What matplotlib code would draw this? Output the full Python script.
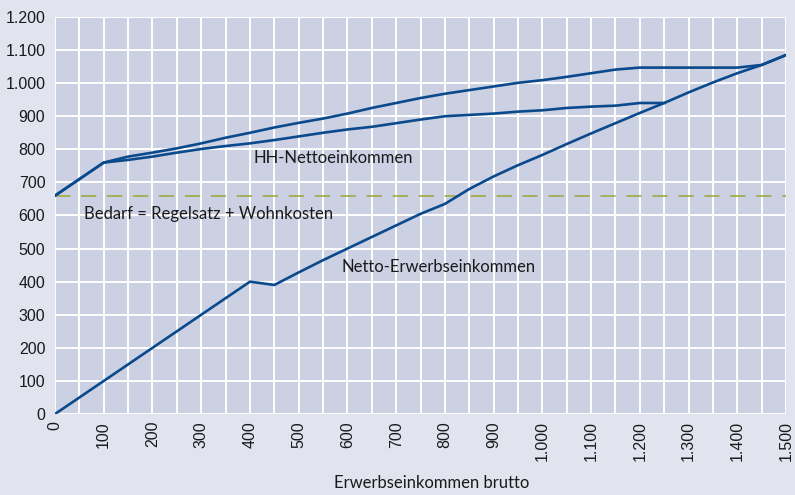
import matplotlib
matplotlib.use("Agg")
import matplotlib.pyplot as plt
from matplotlib.ticker import FuncFormatter, MultipleLocator

# Bruttoerwerbseinkommen (x) in 50er-Schritten
brutto = [0, 50, 100, 150, 200, 250, 300, 350, 400, 450, 500, 550, 600, 650,
          700, 750, 800, 850, 900, 950, 1000, 1050, 1100, 1150, 1200, 1250,
          1300, 1350, 1400, 1450, 1500]

# HH-Nettoeinkommen, obere Variante
hh_oben = [660, 710, 760, 778, 790, 803, 818, 835, 850, 866, 880, 893, 908,
           925, 940, 955, 968, 979, 990, 1001, 1009, 1019, 1030, 1041, 1047,
           1047, 1047, 1047, 1047, 1055, 1085]

# HH-Nettoeinkommen, untere Variante (mündet bei 1.250 in das Netto-Einkommen)
brutto_unten = brutto[:26]
hh_unten = [660, 710, 760, 768, 778, 790, 801, 810, 818, 828, 839, 850, 860,
            868, 879, 890, 900, 904, 908, 914, 918, 925, 929, 932, 940, 940]

# Netto-Erwerbseinkommen
netto = [0, 50, 100, 150, 200, 250, 300, 350, 400, 390, 428, 465, 500, 535,
         570, 605, 635, 680, 718, 752, 783, 816, 848, 879, 910, 940, 972,
         1002, 1030, 1055, 1085]

bedarf = 660

FIG_BG = "#e1e4ef"
AX_BG = "#cbd0e3"
LINE = "#0a4a8c"
OLIVE = "#9ba634"


def de_fmt(v, pos=None):
    return f"{int(v):,}".replace(",", ".")


fig = plt.figure(figsize=(7.95, 4.95), dpi=100, facecolor=FIG_BG)
ax = fig.add_axes([0.0692, 0.1636, 0.9195, 0.8021])
ax.set_facecolor(AX_BG)

ax.plot(brutto, hh_oben, color=LINE, lw=1.9, solid_joinstyle="round", zorder=3)
ax.plot(brutto_unten, hh_unten, color=LINE, lw=1.9, solid_joinstyle="round", zorder=3)
ax.plot(brutto, netto, color=LINE, lw=1.9, solid_joinstyle="round", zorder=3)
ax.axhline(bedarf, color=OLIVE, lw=1.1, dashes=(10, 7), zorder=2)

ax.set_xlim(0, 1500)
ax.set_ylim(0, 1200)
ax.xaxis.set_major_locator(MultipleLocator(100))
ax.xaxis.set_minor_locator(MultipleLocator(50))
ax.yaxis.set_major_locator(MultipleLocator(100))
ax.xaxis.set_major_formatter(FuncFormatter(de_fmt))
ax.yaxis.set_major_formatter(FuncFormatter(de_fmt))
ax.grid(True, which="both", axis="x", color="white", lw=1.4, zorder=1)
ax.grid(True, which="major", axis="y", color="white", lw=1.4, zorder=1)
ax.set_axisbelow(True)
for s in ax.spines.values():
    s.set_visible(False)
ax.tick_params(which="both", length=0, labelsize=11.5, colors="#1a1a1a")
ax.tick_params(axis="x", labelrotation=90, pad=5)
ax.tick_params(axis="y", pad=7)
for lab in ax.get_xticklabels() + ax.get_yticklabels():
    lab.set_family("Liberation Sans")

txt = dict(fontsize=12, family="Lato", color="#1a1a1a", va="center", zorder=4)
ax.text(408, 774, "HH-Nettoeinkommen", **txt)
ax.text(60, 605, "Bedarf = Regelsatz + Wohnkosten", **txt)
ax.text(587, 444, "Netto-Erwerbseinkommen", **txt)

fig.text(0.543, 0.025, "Erwerbseinkommen brutto", ha="center", va="center",
         fontsize=12, family="Lato", color="#1a1a1a")

fig.savefig("out.png", dpi=100, facecolor=FIG_BG)
